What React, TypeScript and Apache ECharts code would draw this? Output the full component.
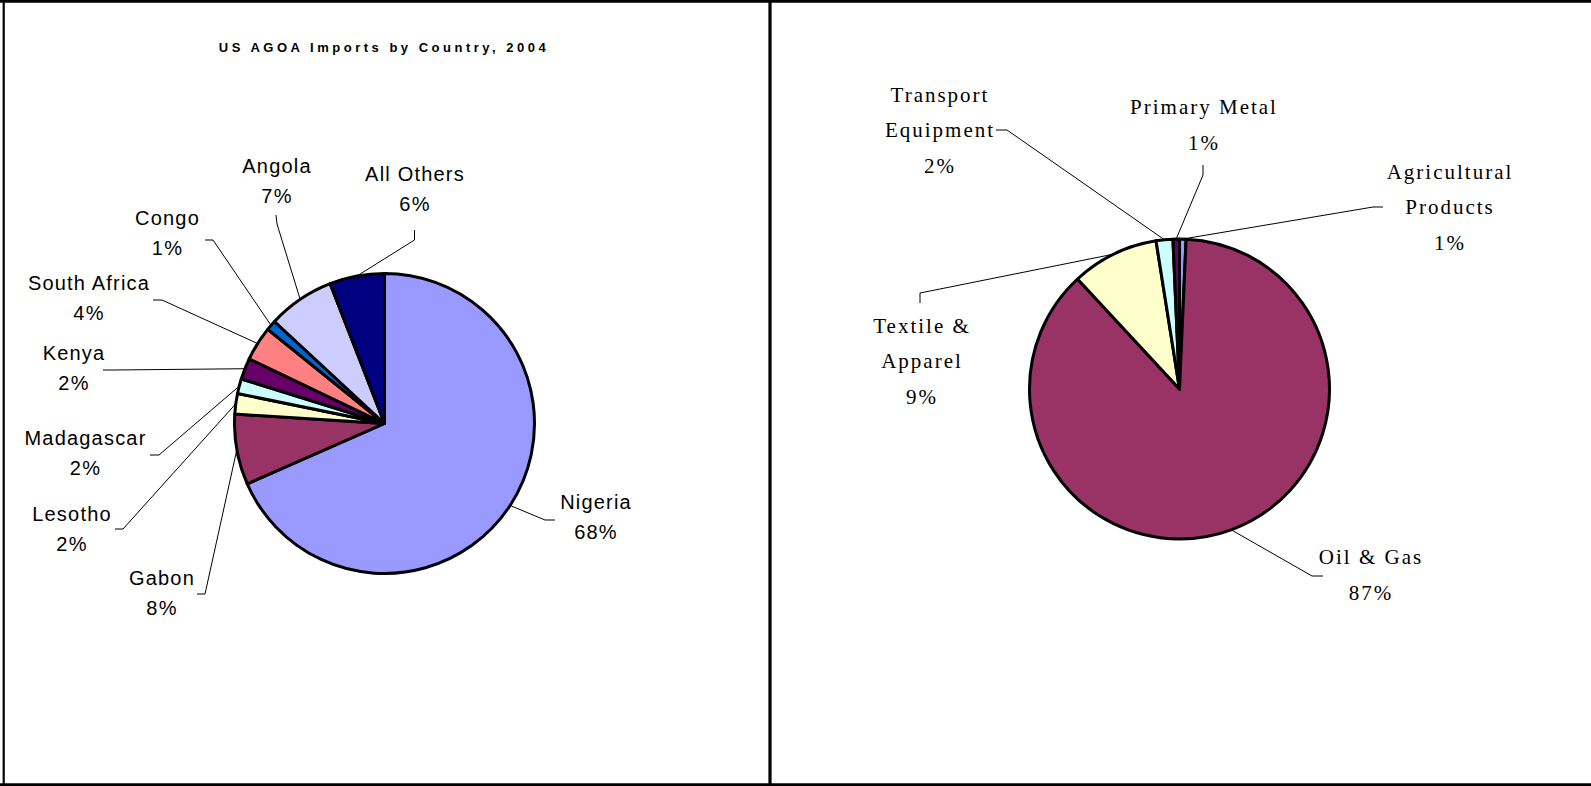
import React, { useEffect, useRef } from 'react';
import * as echarts from 'echarts';

// ---- data ----
const chartTitle = 'US AGOA Imports by Country, 2004';

const countries = ['Nigeria', 'Gabon', 'Lesotho', 'Madagascar', 'Kenya', 'South Africa', 'Congo', 'Angola', 'All Others'];
const countryShares = [68.4, 7.6, 2.2, 1.6, 2.3, 3.7, 1.1, 7.2, 5.9];
const countryColors = ['#9999FF', '#993366', '#FFFFCC', '#CCFFFF', '#660066', '#FF8080', '#0066CC', '#CCCCFF', '#000080'];

const products = ['Agricultural\nProducts', 'Oil & Gas', 'Textile &\nApparel', 'Transport\nEquipment', 'Primary Metal'];
const productShares = [0.7, 87.4, 9.4, 1.8, 0.7];
const productColors = ['#9999FF', '#993366', '#FFFFCC', '#CCFFFF', '#660066'];

// ---- layout (label placement, leader-line elbows) ----
type Place = { x: number; y: number; elbow: number[]; end: number[] };

const countryLabelPlaces: Place[] = [
  { x: 596, y: 517, elbow: [545, 520], end: [555, 520] },
  { x: 162, y: 592.5, elbow: [205, 594], end: [197, 594] },
  { x: 72, y: 528.5, elbow: [123, 529], end: [115, 529] },
  { x: 85.5, y: 453, elbow: [159, 455], end: [150, 455] },
  { x: 74, y: 368, elbow: [113, 370], end: [103, 370] },
  { x: 89, y: 298, elbow: [162, 300], end: [153, 300] },
  { x: 167.5, y: 233, elbow: [213, 240], end: [205, 240] },
  { x: 277, y: 180.5, elbow: [277, 224], end: [276, 215] },
  { x: 415, y: 189, elbow: [414.5, 240], end: [414.5, 230] },
];

const productLabelPlaces: Place[] = [
  { x: 1450, y: 207, elbow: [1373, 207], end: [1383, 207] },
  { x: 1371, y: 575, elbow: [1312, 576], end: [1323, 576] },
  { x: 922, y: 361, elbow: [920, 293], end: [920, 303] },
  { x: 940, y: 130, elbow: [1007, 130], end: [996, 130] },
  { x: 1204, y: 125, elbow: [1203, 175], end: [1203, 165] },
];

const LEFT_CENTER = [384.5, 423.5];
const RIGHT_CENTER = [1179.5, 389];
const RADIUS = 150;

function arcMid(values: number[], index: number, center: number[], r: number) {
  const total = values.reduce((a, b) => a + b, 0);
  let before = 0;
  for (let i = 0; i < index; i++) before += values[i];
  const ang = ((before + values[index] / 2) / total) * Math.PI * 2;
  return [center[0] + r * Math.sin(ang), center[1] - r * Math.cos(ang)];
}

function makePie(
  names: string[],
  values: number[],
  colors: string[],
  center: number[],
  places: Place[],
  fontFamily: string,
  fontSize: number,
  lineHeight: number
) {
  return {
    type: 'pie',
    center,
    radius: RADIUS,
    startAngle: 90,
    clockwise: true,
    silent: true,
    avoidLabelOverlap: false,
    minShowLabelAngle: 0,
    emphasis: { disabled: true },
    data: names.map((n, i) => ({ name: n, value: values[i], itemStyle: { color: colors[i] } })),
    itemStyle: { borderColor: '#000', borderWidth: 3 },
    label: {
      show: true,
      position: 'outside',
      color: '#000',
      fontFamily,
      fontSize,
      lineHeight,
      formatter: (p: any) => `${p.name}\n${Math.round(p.percent)}%`,
    },
    labelLine: {
      show: true,
      length: 10,
      length2: 10,
      smooth: false,
      lineStyle: { color: '#000', width: 1 },
    },
    labelLayout: (p: any) => {
      const place = places[p.dataIndex];
      const start =
        p.labelLinePoints && p.labelLinePoints[0]
          ? p.labelLinePoints[0]
          : arcMid(values, p.dataIndex, center, RADIUS);
      return {
        x: place.x,
        y: place.y,
        align: 'center',
        verticalAlign: 'middle',
        labelLinePoints: [start, place.elbow, place.end],
      };
    },
  };
}

const css = `
.agoa text[style*="Liberation Serif"], .agoa text[font-family*="Liberation Serif"] { letter-spacing: 2px; }
.agoa text[style*="Liberation Sans"], .agoa text[font-family*="Liberation Sans"] { letter-spacing: 1.2px; }
.agoa text[style*="Arial"], .agoa text[font-family*="Arial"] { letter-spacing: 3.5px; }
`;

export default function App() {
  const ref = useRef<HTMLDivElement>(null);

  useEffect(() => {
    if (!ref.current) return;
    const chart = echarts.init(ref.current, undefined, { renderer: 'svg' });
    chart.setOption({
      animation: false,
      backgroundColor: '#fff',
      title: {
        text: chartTitle,
        left: 384,
        top: 41,
        padding: 0,
        textAlign: 'center',
        textStyle: { fontFamily: 'Arial', fontWeight: 'bold', fontSize: 13, color: '#000' },
      },
      graphic: [
        { type: 'line', silent: true, shape: { x1: 0, y1: 1.3, x2: 1591, y2: 1.3 }, style: { stroke: '#000', lineWidth: 2.7 } },
        { type: 'line', silent: true, shape: { x1: 0, y1: 784.6, x2: 1591, y2: 784.6 }, style: { stroke: '#000', lineWidth: 2.8 } },
        { type: 'line', silent: true, shape: { x1: 3.7, y1: 0, x2: 3.7, y2: 786 }, style: { stroke: '#000', lineWidth: 2.2 } },
        { type: 'line', silent: true, shape: { x1: 770, y1: 0, x2: 770, y2: 786 }, style: { stroke: '#000', lineWidth: 3.2 } },
      ],
      series: [
        makePie(countries, countryShares, countryColors, LEFT_CENTER, countryLabelPlaces, 'Liberation Sans', 20, 30),
        makePie(products, productShares, productColors, RIGHT_CENTER, productLabelPlaces, 'Liberation Serif', 21, 35.5),
      ],
    });
    return () => chart.dispose();
  }, []);

  return (
    <div className="agoa" style={{ position: 'fixed', left: 0, top: 0, width: 1591, height: 786, background: '#fff' }}>
      <style>{css}</style>
      <div ref={ref} style={{ width: 1591, height: 786 }} />
    </div>
  );
}
